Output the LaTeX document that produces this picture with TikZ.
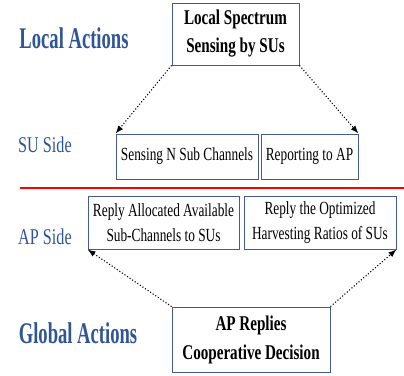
\documentclass[tikz,border=0pt]{standalone}
\usepackage{fontspec}
\setmainfont{Liberation Serif}
\usepackage{tikz}
\usetikzlibrary{arrows.meta}

\definecolor{lblblue}{RGB}{47,85,151}
\definecolor{boxblue}{RGB}{68,90,150}

% narrow text, as in the figure
\newcommand{\nrw}[1]{\scalebox{0.72}[1]{#1}}
\newcommand{\nrwlbl}[1]{\scalebox{0.62}[1]{#1}}

\tikzset{
  actbox/.style={draw=boxblue,line width=0.9pt,inner sep=0pt,align=center,fill=white},
  flow/.style={black,line width=1.1pt,dotted,-{Latex[length=8pt,width=6pt]}},
  sidelbl/.style={text=lblblue,inner sep=0pt}
}

\begin{document}
\begin{tikzpicture}[x=1pt,y=-1pt]
\useasboundingbox (0,0) rectangle (404,375);

% boxes
\node[actbox,minimum width=127pt,minimum height=62pt,font=\bfseries\fontsize{21}{28}\selectfont] (sensing) at (235.5,34) {\nrw{Local Spectrum}\\\nrw{Sensing by SUs}};
\node[actbox,minimum width=142pt,minimum height=45pt,font=\fontsize{18.5}{24}\selectfont] (subch) at (187,156.5) {\nrw{Sensing N Sub Channels}};
\node[actbox,minimum width=97pt,minimum height=45pt,font=\fontsize{18.5}{24}\selectfont] (report) at (309.5,156.5) {\nrw{Reporting to AP}};
\node[actbox,minimum width=151pt,minimum height=53pt,font=\fontsize{18.5}{25}\selectfont] (alloc) at (163.5,222.5) {\nrw{Reply Allocated Available}\\\nrw{Sub-Channels to SUs}};
\node[actbox,minimum width=152pt,minimum height=53pt,font=\fontsize{18.5}{25}\selectfont] (ratio) at (320,222.5) {\nrw{Reply the Optimized}\\\nrw{Harvesting Ratios of SUs}};
\node[actbox,minimum width=158pt,minimum height=65pt,font=\bfseries\fontsize{21}{29}\selectfont] (decide) at (251,339.5) {\nrw{AP Replies}\\\nrw{Cooperative Decision}};

% side labels
\node[sidelbl,font=\bfseries\fontsize{30}{30}\selectfont] (local) at (74,38) {\nrwlbl{Local Actions}};
\node[sidelbl,font=\fontsize{22.5}{24}\selectfont] (suside) at (45,145) {\nrw{SU Side}};
\node[sidelbl,font=\fontsize{22.5}{24}\selectfont] (apside) at (45,237) {\nrw{AP Side}};
\node[sidelbl,font=\bfseries\fontsize{30}{30}\selectfont] (global) at (78,333) {\nrwlbl{Global Actions}};

% divider
\coordinate (divl) at (20,188);
\coordinate (divr) at (404,188);
\draw[red,line width=1.6pt] (divl) -- (divr);

% arrows
\draw[flow] (sensing.south west) -- (subch.north west);
\draw[flow] (sensing.south east) -- (report.north east);
\draw[flow] (decide.north west) -- (alloc.south west);
\draw[flow] (decide.north east) -- (ratio.south east);

\end{tikzpicture}
\end{document}
